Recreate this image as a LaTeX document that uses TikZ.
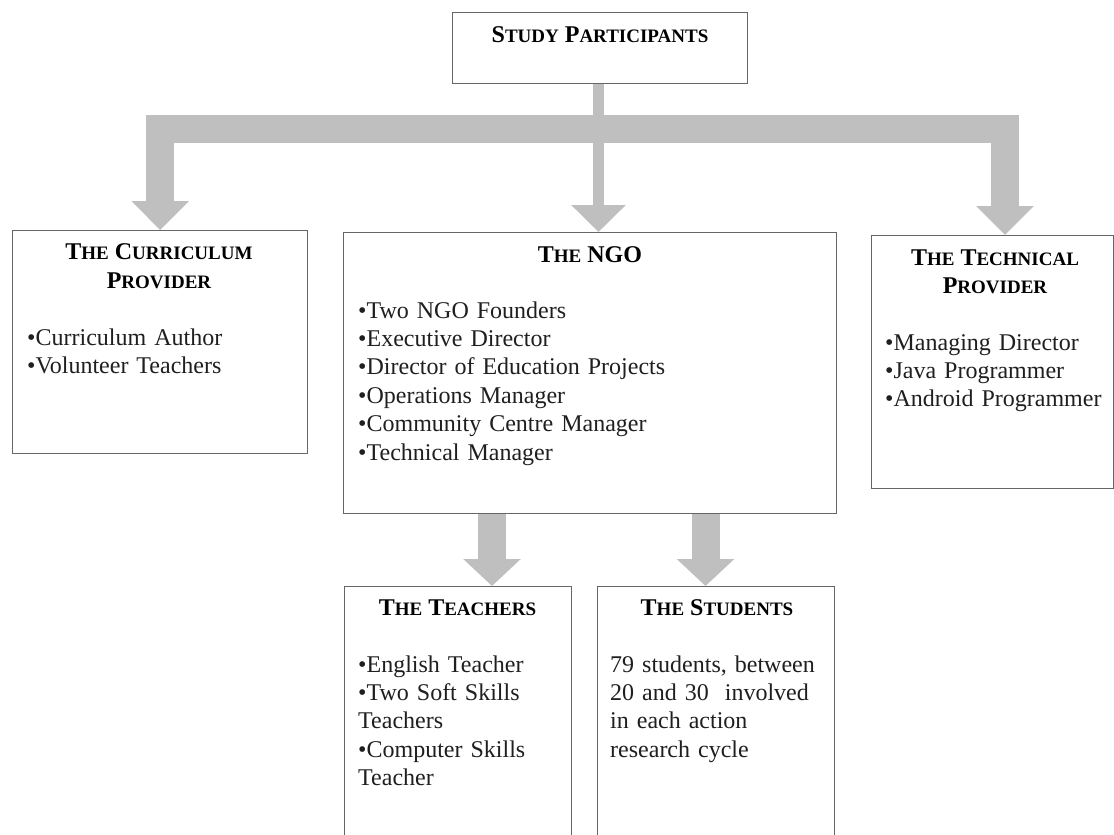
\documentclass[tikz,border=0pt]{standalone}
\usepackage{fontspec}
\setmainfont{Liberation Serif}
\usetikzlibrary{arrows.meta}
\definecolor{arrowgray}{HTML}{BFBFBF}
\definecolor{boxline}{HTML}{666666}
\definecolor{itemtxt}{HTML}{1F1F1F}
\newcommand{\SCbig}[1]{{\fontsize{24}{28}\selectfont\bfseries #1}}
\newcommand{\SCsmall}[1]{{\fontsize{19}{28}\selectfont\bfseries #1}}
\newcommand{\SCword}[2]{\SCbig{#1}\SCsmall{#2}}
\tikzset{
  box/.style={draw=boxline, line width=1.3pt, fill=white, anchor=north west, inner sep=0pt},
  ttl/.style={anchor=base, inner sep=0pt, text=black, font=\fontsize{24}{28}\selectfont\bfseries},
  lst/.style={anchor=base west, inner sep=0pt, text width=#1, align=left, text=itemtxt,
              font=\fontsize{24}{28.4}\selectfont},
  thinline/.style={draw=arrowgray, line width=11pt},
  thinarrow/.style={draw=arrowgray, line width=11pt, -{Triangle[width=53pt,length=27pt]}},
  bararrow/.style={draw=arrowgray, line width=28pt, line join=miter, -{Triangle[width=56pt,length=29pt]}},
  lowarrow/.style={draw=arrowgray, line width=28pt, -{Triangle[width=56pt,length=27pt]}},
}
\begin{document}
\begin{tikzpicture}[x=1pt,y=-1pt]
\useasboundingbox (0,0) rectangle (1114,835);
\clip (0,0) rectangle (1114,835);

% boxes
\node[box, minimum width=295pt, minimum height=71pt] (sp) at (452,12) {};
\node[box, minimum width=295pt, minimum height=223pt] (cur) at (12,230) {};
\node[box, minimum width=493pt, minimum height=281pt] (ngo) at (343,232) {};
\node[box, minimum width=242pt, minimum height=253pt] (tec) at (871,235) {};
\node[box, minimum width=227pt, minimum height=270pt] (tea) at (344,586) {};
\node[box, minimum width=237pt, minimum height=270pt] (stu) at (597,586) {};

% titles
\node[ttl] (spt) at (600,42) {\SCword{S}{TUDY} \SCword{P}{ARTICIPANTS}};
\node[ttl] (curt1) at (159,259) {\SCword{T}{HE} \SCword{C}{URRICULUM}};
\node[ttl] (curt2) at (159,288) {\SCword{P}{ROVIDER}};
\node[ttl] (ngot) at (590,262) {\SCword{T}{HE} \SCword{NGO}{}};
\node[ttl] (tect1) at (995,265) {\SCword{T}{HE} \SCword{T}{ECHNICAL}};
\node[ttl] (tect2) at (995,293) {\SCword{P}{ROVIDER}};
\node[ttl] (teat) at (457.5,615) {\SCword{T}{HE} \SCword{T}{EACHERS}};
\node[ttl] (stut) at (717,615) {\SCword{T}{HE} \SCword{S}{TUDENTS}};

% lists
\node[lst=275pt] (curl) at (27,345) {•Curriculum Author\\•Volunteer Teachers};
\node[lst=470pt] (ngol) at (358,318) {•Two NGO Founders\\•Executive Director\\•Director of Education Projects\\•Operations Manager\\•Community Centre Manager\\•Technical Manager};
\node[lst=225pt] (tecl) at (885,350) {•Managing Director\\•Java Programmer\\•Android Programmer};
\node[lst=210pt] (teal) at (358,672) {•English Teacher\\•Two Soft Skills\\Teachers\\•Computer Skills\\Teacher};
\node[lst=220pt] (stul) at (610,672) {79 students, between\\20 and 30\ \ involved\\in each action\\research cycle};

% connectors
\coordinate (hub) at (598.5,129);
\coordinate (tr) at (1005,0);
\coordinate (bl) at (492,0);
\coordinate (br) at (705.5,0);
\draw[thinline] (sp.south -| hub) -- (hub);
\draw[bararrow] (hub) -| (cur.north);
\draw[bararrow] (hub) -| (tec.north -| tr);
\draw[thinarrow] (hub) -- (ngo.north -| hub);
\draw[lowarrow] (ngo.south -| bl) -- (tea.north -| bl);
\draw[lowarrow] (ngo.south -| br) -- (stu.north -| br);
\end{tikzpicture}
\end{document}
